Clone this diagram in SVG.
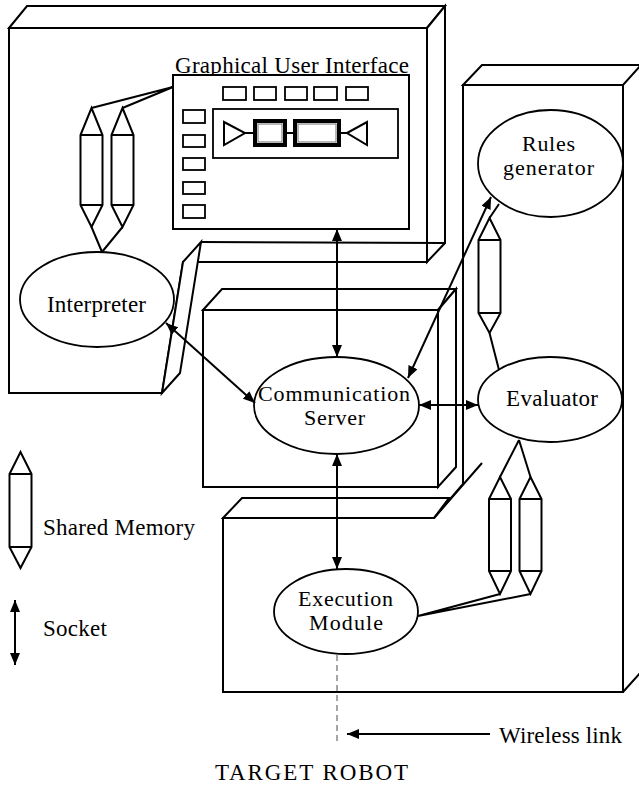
<svg xmlns="http://www.w3.org/2000/svg" width="639" height="789" viewBox="0 0 639 789">
<style>
.ln{fill:none;stroke:#000;stroke-width:2}
.face{fill:#fff;stroke:#000;stroke-width:2}
.node{fill:#fff;stroke:#000;stroke-width:1.8}
.btn{fill:#fff;stroke:#000;stroke-width:1.8}
.shm{fill:#fff;stroke:#000;stroke-width:2;stroke-linejoin:miter}
.sock{fill:none;stroke:#000;stroke-width:2;marker-start:url(#head);marker-end:url(#head)}
.wire{fill:none;stroke:#777;stroke-width:1.3;stroke-dasharray:6 4}
text{font-family:"Liberation Serif","Times New Roman",serif;font-size:23px;fill:#000}
.mid{text-anchor:middle}
.two{font-size:22px}
</style>
<defs>
<marker id="head" viewBox="0 0 12 10" refX="12" refY="5" markerWidth="12" markerHeight="10" markerUnits="userSpaceOnUse" orient="auto-start-reverse">
<path d="M0,0 L12,5 L0,10 Z" fill="#000"/>
</marker>
</defs>
<rect width="639" height="789" fill="#fff"/>

<!-- operator workstation enclosure -->
<g id="gui-host">
<path class="face" d="M9,28 L427,28 L427,262 L183,262 L162,393 L9,393 Z"/>
<path class="face" d="M9,28 L27,6 L445,6 L427,28 Z"/>
<path class="face" d="M427,28 L445,6 L445,243 L427,262 Z"/>
<path class="face" d="M183,262 L201,242 L180,373 L162,393 Z"/>
<path class="ln" d="M201,242 L445,243"/>
</g>

<!-- robot enclosure: tall tower plus lower block -->
<g id="robot-host">
<path class="face" d="M463,85 L623,85 L623,692 L223,692 L223,518 L434,518 L463,484 Z"/>
<path class="face" d="M463,85 L482,65 L641,65 L623,85 Z"/>
<path class="face" d="M223,518 L242,498 L449,498 L434,518 Z"/>
<path class="ln" d="M434,518 L482,463 M623,692 L641,672"/>
</g>

<!-- server enclosure -->
<g id="server-host">
<rect class="face" x="203" y="310" width="235" height="177"/>
<path class="face" d="M203,310 L222,289 L456,289 L438,310 Z"/>
<path class="face" d="M438,310 L456,289 L456,467 L438,487 Z"/>
</g>

<!-- graphical user interface window -->
<g id="gui">
<text x="175" y="73" textLength="234">Graphical User Interface</text>
<rect class="face" x="173" y="75" width="236" height="154"/>
<rect class="btn" x="223" y="87" width="23" height="13"/>
<rect class="btn" x="254" y="87" width="22" height="13"/>
<rect class="btn" x="285" y="87" width="22" height="13"/>
<rect class="btn" x="314" y="87" width="23" height="13"/>
<rect class="btn" x="346" y="87" width="22" height="13"/>
<rect class="btn" x="183" y="110" width="22" height="13"/>
<rect class="btn" x="183" y="135" width="22" height="12"/>
<rect class="btn" x="183" y="158" width="22" height="12"/>
<rect class="btn" x="183" y="182" width="22" height="12"/>
<rect class="btn" x="183" y="205" width="22" height="13"/>
<rect class="btn" x="213" y="109" width="185" height="49"/>
<path class="ln" d="M224,122 L245,133 L224,145 Z M245,133 H253 M287,133 H293 M341,133 H347 M347,133 L367,122 L367,145 Z" stroke-width="1.8"/>
<rect x="255" y="121" width="30" height="24" fill="#fff" stroke="#000" stroke-width="4"/>
<rect x="258" y="124" width="24" height="18" fill="#fff" stroke="#888" stroke-width="1.2"/>
<rect x="295" y="121" width="44" height="24" fill="#fff" stroke="#000" stroke-width="4"/>
<rect x="298" y="124" width="38" height="18" fill="#fff" stroke="#888" stroke-width="1.2"/>
</g>

<g id="interpreter">
<ellipse class="node" cx="97" cy="299.5" rx="77" ry="47.5"/>
<text class="mid" x="96.5" y="312" textLength="99">Interpreter</text>
</g>

<g id="comm-server">
<ellipse class="node" cx="336.5" cy="405.5" rx="82.5" ry="48.5"/>
<text class="mid two" x="334" y="401" textLength="152">Communication</text>
<text class="mid two" x="334.5" y="425" textLength="61">Server</text>
</g>

<g id="rules-generator">
<ellipse class="node" cx="550.5" cy="163.5" rx="72.5" ry="53.5"/>
<text class="mid two" x="548.5" y="151" textLength="53">Rules</text>
<text class="mid two" x="548.5" y="175" textLength="91">generator</text>
</g>

<g id="evaluator">
<ellipse class="node" cx="550" cy="399.5" rx="72" ry="42.5"/>
<text class="mid" x="552" y="406" textLength="92">Evaluator</text>
</g>

<g id="execution-module">
<ellipse class="node" cx="346" cy="611.5" rx="72" ry="42.5"/>
<text class="mid two" x="345.5" y="606" textLength="95">Execution</text>
<text class="mid two" x="346" y="630" textLength="74">Module</text>
</g>

<!-- sockets, shared memories and the wireless link -->
<g id="connectors">
<line class="sock" x1="337" y1="229" x2="337" y2="357"/>
<line class="sock" x1="166" y1="323" x2="255" y2="403"/>
<line class="sock" x1="491" y1="197" x2="408" y2="378"/>
<line class="sock" x1="419" y1="405" x2="478" y2="405"/>
<line class="sock" x1="337" y1="454" x2="337" y2="569"/>

<path class="ln" d="M91.5,108 L173,87 M122.5,108 L173,87 M91.5,227 L102,252 M122.5,227 L102,252"/>
<path class="shm" d="M91.5,108 L102.5,135 L102.5,205 L91.5,227 L80.5,205 L80.5,135 Z M80.5,135 H102.5 M80.5,205 H102.5"/>
<path class="shm" d="M122.5,108 L133.5,135 L133.5,205 L122.5,227 L111.5,205 L111.5,135 Z M111.5,135 H133.5 M111.5,205 H133.5"/>

<path class="ln" d="M489.5,218 L499,204 M489.5,333 L499,370"/>
<path class="shm" d="M489.5,218 L500.5,240 L500.5,313 L489.5,333 L478.5,313 L478.5,240 Z M478.5,240 H500.5 M478.5,313 H500.5"/>

<path class="ln" d="M519,440 L500,477 M519,440 L530.5,477 M500,594 L418,616 M530.5,594 L418,616"/>
<path class="shm" d="M500,477 L511,499 L511,571 L500,594 L489,571 L489,499 Z M489,499 H511 M489,571 H511"/>
<path class="shm" d="M530.5,477 L541.5,499 L541.5,571 L530.5,594 L519.5,571 L519.5,499 Z M519.5,499 H541.5 M519.5,571 H541.5"/>

<line class="wire" x1="337" y1="655" x2="337" y2="745"/>
<line x1="490" y1="734" x2="347" y2="734" stroke="#000" stroke-width="2" marker-end="url(#head)"/>
</g>

<g id="legend">
<path class="shm" d="M20.5,452 L31.5,474 L31.5,547 L20.5,568 L9.5,547 L9.5,474 Z M9.5,474 H31.5 M9.5,547 H31.5"/>
<text x="43" y="535" textLength="152">Shared Memory</text>
<line class="sock" x1="15" y1="600" x2="15" y2="665"/>
<text x="43" y="636" textLength="64">Socket</text>
<text x="499" y="743" textLength="123">Wireless link</text>
<text x="215" y="780" textLength="193" font-size="21">TARGET ROBOT</text>
</g>
</svg>
